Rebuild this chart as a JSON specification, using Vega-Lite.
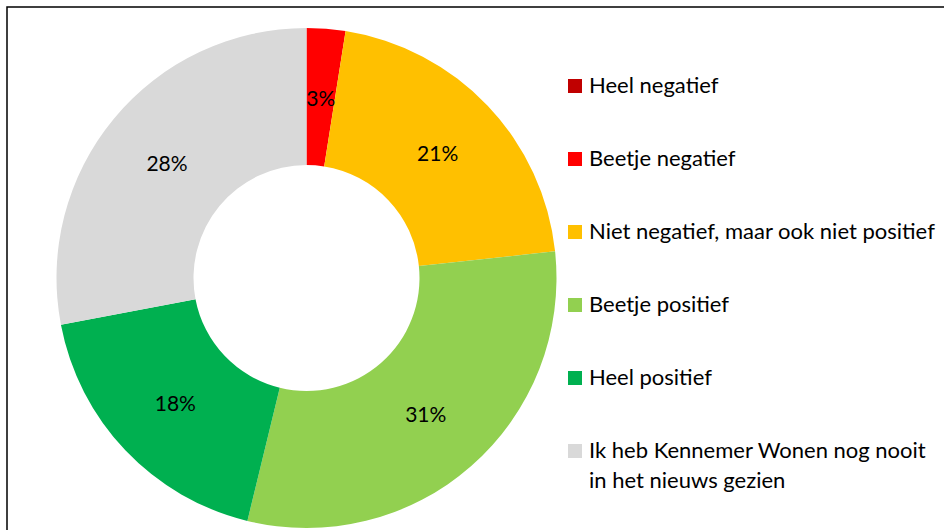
{
  "$schema": "https://vega.github.io/schema/vega-lite/v6.json",
  "width": 944,
  "height": 530,
  "autosize": {"type": "none"},
  "padding": {"left": 7, "top": 7, "right": 0, "bottom": 0},
  "background": "white",
  "config": {
    "view": {"stroke": "#000000", "strokeWidth": 1.5},
    "font": "Lato"
  },
  "data": {
    "values": [
      {"categorie": "Heel negatief", "order": 1, "waarde": 0},
      {"categorie": "Beetje negatief", "order": 2, "waarde": 2.5},
      {"categorie": "Niet negatief, maar ook niet positief", "order": 3, "waarde": 20.8},
      {"categorie": "Beetje positief", "order": 4, "waarde": 30.5},
      {"categorie": "Heel positief", "order": 5, "waarde": 18.2},
      {"categorie": "Ik heb Kennemer Wonen nog nooit in het nieuws gezien", "order": 6, "waarde": 28.0}
    ]
  },
  "transform": [
    {"calculate": "datum.waarde > 0 ? format(datum.waarde, '.0f') + '%' : ''", "as": "label"}
  ],
  "encoding": {
    "theta": {"field": "waarde", "type": "quantitative", "stack": true},
    "order": {"field": "order", "type": "quantitative"},
    "x": {"value": 299.5},
    "y": {"value": 271}
  },
  "layer": [
    {
      "mark": {"type": "arc", "outerRadius": 250, "innerRadius": 113},
      "encoding": {
        "color": {
          "field": "categorie",
          "type": "nominal",
          "sort": null,
          "scale": {
            "domain": ["Heel negatief", "Beetje negatief", "Niet negatief, maar ook niet positief", "Beetje positief", "Heel positief", "Ik heb Kennemer Wonen nog nooit in het nieuws gezien"],
            "range": ["#C00000", "#FF0000", "#FFC000", "#92D050", "#00B050", "#D9D9D9"]
          },
          "legend": {
            "title": null,
            "orient": "none",
            "legendX": 557,
            "legendY": 68,
            "padding": 0,
            "symbolType": "square",
            "symbolSize": 196,
            "symbolStrokeWidth": 0,
            "symbolOpacity": 1,
            "labelFontSize": 22,
            "labelFont": "Lato",
            "labelColor": "#000000",
            "labelOffset": 3,
            "labelLimit": 0,
            "rowPadding": 51,
            "labelExpr": "datum.label == 'Ik heb Kennemer Wonen nog nooit in het nieuws gezien' ? ['Ik heb Kennemer Wonen nog nooit', 'in het nieuws gezien'] : datum.label",
            "encode": {"labels": {"update": {"lineHeight": {"value": 30}}}}
          }
        }
      }
    },
    {
      "mark": {"type": "text", "radius": 181, "fontSize": 21, "font": "Lato", "color": "#000000", "dy": 2},
      "encoding": {
        "text": {"field": "label", "type": "nominal"}
      }
    }
  ]
}
